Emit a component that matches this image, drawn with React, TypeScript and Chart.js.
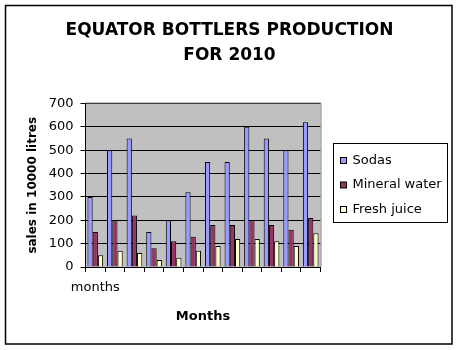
import React, { useEffect, useRef } from "react";
import { Chart, registerables } from "chart.js";

Chart.register(...registerables);

const categories = ["months", "", "", "", "", "", "", "", "", "", "", ""];
const sodas = [300, 500, 550, 150, 200, 320, 450, 450, 600, 550, 500, 620];
const mineralWater = [150, 200, 220, 80, 110, 130, 180, 180, 200, 180, 160, 210];
const freshJuice = [50, 70, 60, 30, 40, 70, 90, 120, 120, 110, 90, 145];
const seriesNames = ["Sodas", "Mineral water", "Fresh juice"];
const seriesColors = ["#9999ff", "#993366", "#ffffcc"];
const titleLines = ["EQUATOR BOTTLERS PRODUCTION", "FOR 2010"];
const yTitle = "sales in 10000 litres";
const xTitle = "Months";

const FONT = "'DejaVu Sans', sans-serif";

const decorPlugin = {
  id: "decor",
  beforeDraw(chart: any) {
    const { ctx, chartArea } = chart;
    ctx.save();
    ctx.fillStyle = "#ffffff";
    ctx.fillRect(0, 0, chart.width, chart.height);
    ctx.fillStyle = "#c0c0c0";
    ctx.fillRect(chartArea.left, chartArea.top, chartArea.right - chartArea.left, chartArea.bottom - chartArea.top);
    ctx.restore();
  },
  afterDraw(chart: any) {
    const { ctx, chartArea } = chart;
    ctx.save();
    // title
    ctx.fillStyle = "#000";
    ctx.font = `bold 17px ${FONT}`;
    ctx.textAlign = "center";
    ctx.textBaseline = "middle";
    titleLines.forEach((line, i) => ctx.fillText(line, 229.5, 30.5 + i * 25));
    // plot area gray border (top/right)
    ctx.strokeStyle = "#808080";
    ctx.lineWidth = 1;
    ctx.beginPath();
    ctx.moveTo(chartArea.left, chartArea.top - 0.5);
    ctx.lineTo(chartArea.right + 0.5, chartArea.top - 0.5);
    ctx.lineTo(chartArea.right + 0.5, chartArea.bottom);
    ctx.stroke();
    // outer border
    ctx.strokeStyle = "#000000";
    ctx.lineWidth = 1.5;
    ctx.strokeRect(5.5, 5.5, 446.5, 338.5);
    // legend
    ctx.lineWidth = 1;
    ctx.fillStyle = "#ffffff";
    ctx.fillRect(333.5, 143.5, 114, 79);
    ctx.strokeRect(333.5, 143.5, 114, 79);
    ctx.font = `13px ${FONT}`;
    ctx.textBaseline = "middle";
    ctx.textAlign = "left";
    chart.data.datasets.forEach((ds: any, i: number) => {
      const cy = 160.5 + i * 24.5;
      ctx.fillStyle = ds.backgroundColor;
      ctx.fillRect(340.5, cy - 3, 6, 6);
      ctx.strokeStyle = "#000";
      ctx.strokeRect(340.5, cy - 3, 6, 6);
      ctx.fillStyle = "#000";
      ctx.fillText(ds.label, 352.5, cy);
    });
    ctx.restore();
  },
};

export default function App() {
  const ref = useRef<HTMLCanvasElement>(null);
  useEffect(() => {
    if (!ref.current) return;
    const values = [sodas, mineralWater, freshJuice];
    const chart = new Chart(ref.current, {
      type: "bar",
      data: {
        labels: categories,
        datasets: values.map((v, i) => ({
          label: seriesNames[i],
          data: v,
          backgroundColor: seriesColors[i],
          borderColor: "#000000",
          borderWidth: 1,
          categoryPercentage: 0.8,
          barPercentage: 1.0,
        })),
      },
      options: {
        responsive: false,
        animation: false,
        layout: { padding: { left: 0, right: 137.5, top: 103.5, bottom: 0 } },
        plugins: {
          legend: { display: false },
          tooltip: { enabled: false },
          title: { display: false },
        },
        scales: {
          x: {
            afterFit(scale: any) {
              scale.height = 83;
            },
            grid: {
              drawOnChartArea: false,
              drawTicks: true,
              tickLength: 5,
              color: "#000",
              offset: true,
            },
            border: { display: true, color: "#000" },
            ticks: {
              autoSkip: false,
              maxRotation: 0,
              color: "#000",
              padding: 8,
              font: { family: FONT, size: 13 },
            },
            title: {
              display: true,
              text: xTitle,
              color: "#000",
              font: { family: FONT, size: 13, weight: "bold" },
              padding: { top: 0, bottom: 26 },
            },
          },
          y: {
            min: 0,
            max: 700,
            afterFit(scale: any) {
              scale.width = 85.5;
            },
            grid: { color: "#000", tickLength: 5, drawTicks: true },
            border: { display: true, color: "#000" },
            ticks: {
              stepSize: 100,
              color: "#000",
              padding: 7,
              font: { family: FONT, size: 13 },
            },
            title: {
              display: true,
              text: yTitle,
              color: "#000",
              font: { family: FONT, size: 12, weight: "bold" },
              padding: { top: 26, bottom: 0 },
            },
          },
        },
      },
      plugins: [decorPlugin],
    });
    return () => chart.destroy();
  }, []);
  return (
    <div style={{ position: "fixed", left: 0, top: 0, width: 458, height: 350 }}>
      <canvas ref={ref} width={458} height={350} style={{ width: 458, height: 350 }} />
    </div>
  );
}
